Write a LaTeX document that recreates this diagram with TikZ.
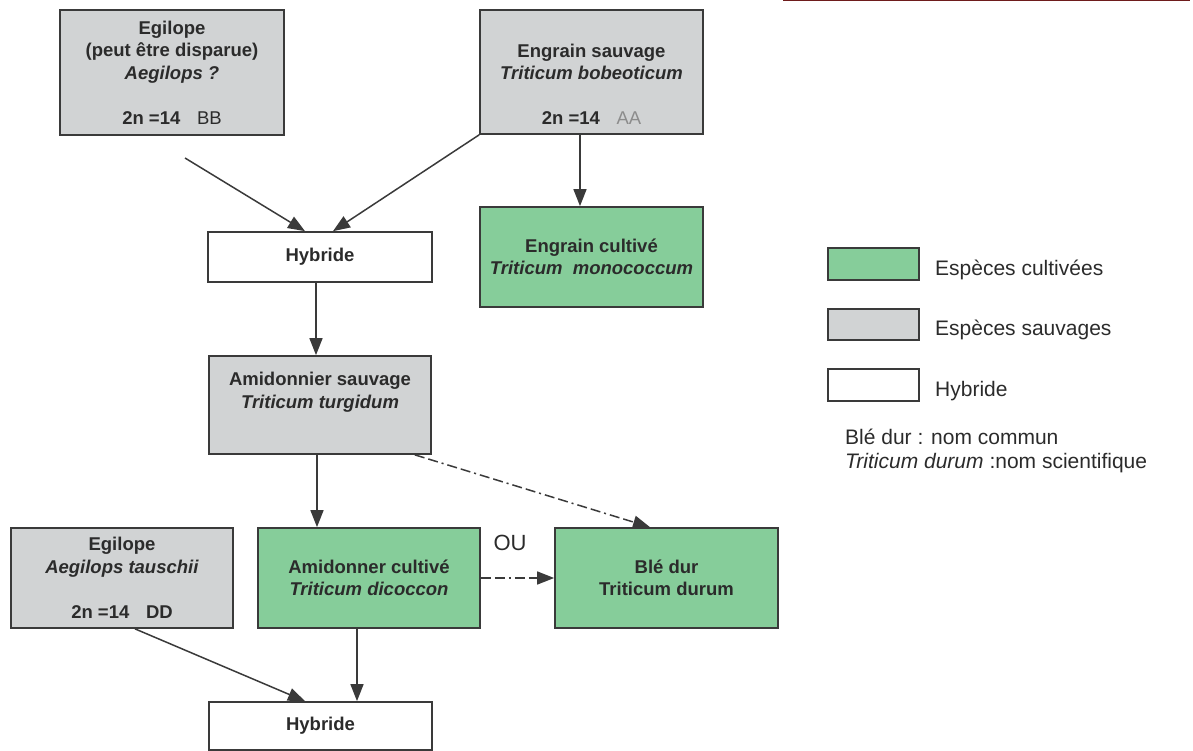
\documentclass[tikz,border=0pt]{standalone}
\usepackage{fontspec}
\setmainfont{Liberation Sans}
\usetikzlibrary{arrows.meta,calc}
\definecolor{wildgray}{HTML}{D1D3D4}
\definecolor{cultgreen}{HTML}{86CD9A}
\definecolor{edgegray}{HTML}{3A3A3A}
\definecolor{txt}{HTML}{2B2B2B}
\definecolor{aagray}{HTML}{8C8C8C}
\definecolor{darkred}{HTML}{6E1C1C}
\begin{document}
\begin{tikzpicture}[x=1pt,y=-1pt,
  box/.style={draw=edgegray,line width=1.7pt,inner sep=0pt,align=center,text=txt,
    font=\fontsize{18.5}{22.5}\selectfont\bfseries},
  wild/.style={box,fill=wildgray},
  cult/.style={box,fill=cultgreen},
  hyb/.style={box,fill=white},
  conn/.style={draw=edgegray,line width=1.5pt,-{Triangle[length=17pt,width=13pt]}},
  dashdot/.style={conn,dash pattern=on 10pt off 4pt on 10pt off 4pt on 2pt off 4pt},
  legbox/.style={draw=edgegray,line width=1.7pt,minimum width=91pt,inner sep=0pt},
  legtext/.style={anchor=west,text=txt,font=\fontsize{21}{25}\selectfont,inner sep=0pt}]
\useasboundingbox (0,0) rectangle (1193,751);
% top red rule
\coordinate (r1) at (783,0.75);
\coordinate (r2) at (1190,0.75);
\draw[darkred,line width=1.5pt] (r1) -- (r2);
% boxes
\node[wild,minimum width=224pt,minimum height=125pt] (eg1) at (172,72.5)
  {Egilope\\(peut être disparue)\\\textit{Aegilops ?}\\\strut\\2n =14\hspace{0.9em}{\mdseries BB}};
\node[wild,minimum width=223pt,minimum height=124pt] (es) at (591.5,72)
  {\strut\\Engrain sauvage\\\textit{Triticum bobeoticum}\\\strut\\2n =14\hspace{0.9em}{\mdseries\color{aagray}AA}};
\node[hyb,minimum width=224pt,minimum height=50pt] (hy1) at (320,257) {Hybride};
\node[cult,minimum width=223pt,minimum height=100pt] (ec) at (591.5,257)
  {Engrain cultivé\\\textit{Triticum\ \ monococcum}};
\node[wild,minimum width=222pt,minimum height=98pt] (as) at (320,405)
  {Amidonnier sauvage\\\textit{Triticum turgidum}\\\strut};
\node[wild,minimum width=222pt,minimum height=100pt] (eg2) at (122,578)
  {Egilope\\\textit{Aegilops tauschii}\\\strut\\2n =14\hspace{0.9em}DD};
\node[cult,minimum width=222pt,minimum height=100pt] (ac) at (369,578)
  {Amidonner cultivé\\\textit{Triticum dicoccon}};
\node[cult,minimum width=223pt,minimum height=100pt] (bd) at (666.5,578)
  {Blé dur\\Triticum durum};
\node[hyb,minimum width=223pt,minimum height=48pt] (hy2) at (320.5,726) {Hybride};
\node[text=txt,font=\fontsize{22}{26}\selectfont,inner sep=0pt] (ou) at (510,543) {OU};
% connectors
\coordinate (c1) at (185,158);
\coordinate (p1) at ($(as.south)+(-3,0)$);
\coordinate (p2) at ($(ac.south)+(-12,0)$);
\draw[conn] (c1) -- ($(hy1.north)+(-15,0)$);
\draw[conn] (es.south west) -- ($(hy1.north)+(13,0)$);
\draw[conn] ($(es.south)+(-11.5,0)$) -- ($(ec.north)+(-11.5,0)$);
\draw[conn] ($(hy1.south)+(-4,0)$) -- ($(as.north)+(-4,0)$);
\draw[conn] (p1) -- (p1 |- ac.north);
\draw[dashdot] ($(as.south east)+(-17,0)$) -- ($(bd.north)+(-16.5,0)$);
\draw[dashdot] (ac.east) -- (bd.west);
\draw[conn] (p2) -- (p2 |- hy2.north);
\draw[conn] ($(eg2.south)+(13,0)$) -- ($(hy2.north)+(-15.5,0)$);
% legend
\node[legbox,fill=cultgreen,minimum height=32pt] (lg1) at (873.5,264) {};
\node[legbox,fill=wildgray,minimum height=31pt] (lg2) at (873.5,324.5) {};
\node[legbox,fill=white,minimum height=32pt] (lg3) at (873.5,385) {};
\node[legtext] (lt1) at (935,270) {Espèces cultivées};
\node[legtext] (lt2) at (935,330) {Espèces sauvages};
\node[legtext] (lt3) at (935,391) {Hybride};
\node[legtext] (n1) at (845,437) {Blé dur : nom commun};
\node[legtext] (n2) at (845,463) {\textit{Triticum durum} :nom scientifique};
\end{tikzpicture}
\end{document}
